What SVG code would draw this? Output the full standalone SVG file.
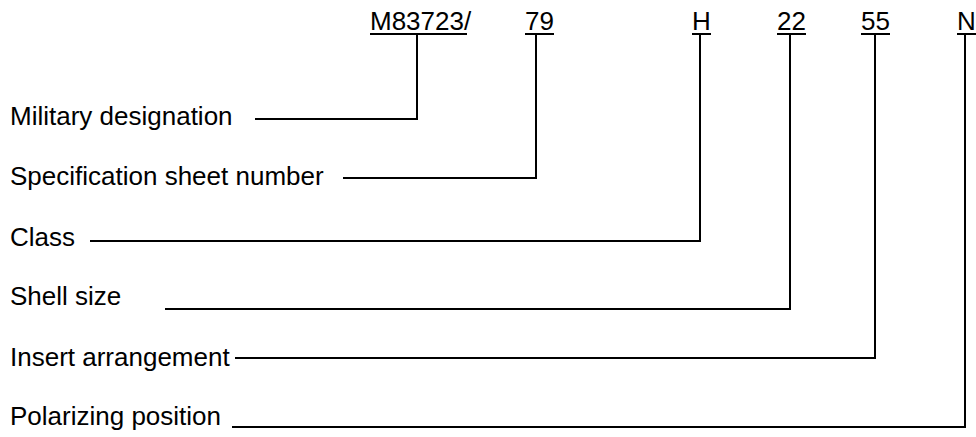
<svg xmlns="http://www.w3.org/2000/svg" width="976" height="437" viewBox="0 0 976 437">
<style>
text{font-family:"Liberation Sans",Arial,sans-serif;font-size:26px;fill:#000}
.c{fill:none;stroke:#000;stroke-width:2}
</style>
<rect width="976" height="437" fill="#fff"/>
<g id="codes">
<text id="t-m" x="370" y="30">M83723/</text>
<text id="t-79" x="525" y="30">79</text>
<text id="t-h" x="692" y="30">H</text>
<text id="t-22" x="777" y="30">22</text>
<text id="t-55" x="861" y="30">55</text>
<text id="t-n" x="957" y="30">N</text>
<g class="c">
<line x1="370" y1="34" x2="467" y2="34"/>
<line x1="525" y1="34" x2="554" y2="34"/>
<line x1="692" y1="34" x2="711" y2="34"/>
<line x1="777" y1="34" x2="806" y2="34"/>
<line x1="861" y1="34" x2="890" y2="34"/>
<line x1="957" y1="34" x2="976" y2="34"/>
</g>
</g>
<g id="labels">
<text id="l1" x="10" y="125">Military designation</text>
<text id="l2" x="10" y="185">Specification sheet number</text>
<text id="l3" x="10" y="246">Class</text>
<text id="l4" x="10" y="305">Shell size</text>
<text id="l5" x="10" y="366">Insert arrangement</text>
<text id="l6" x="10" y="425">Polarizing position</text>
</g>
<g id="connectors" class="c">
<polyline points="255,119 417,119 417,35"/>
<polyline points="343,178 536,178 536,35"/>
<polyline points="90,241 700,241 700,35"/>
<polyline points="165,309 790,309 790,35"/>
<polyline points="235,358 875,358 875,35"/>
<polyline points="232,427 965,427 965,35"/>
</g>
</svg>
